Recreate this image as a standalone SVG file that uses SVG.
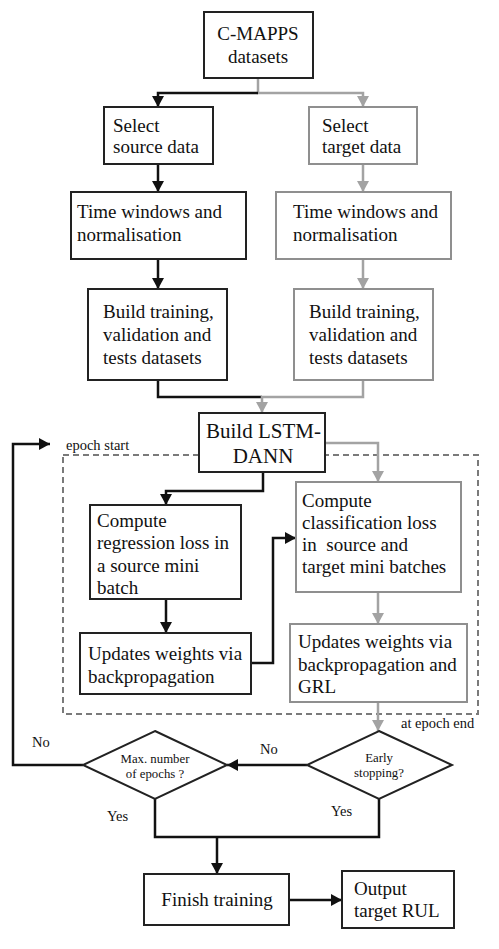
<svg xmlns="http://www.w3.org/2000/svg" width="499" height="949" viewBox="0 0 499 949" font-family="'Liberation Serif', 'DejaVu Serif', serif">
<style>
text{font-family:'Liberation Serif','DejaVu Serif',serif;fill:#111;}
.t{font-size:19px;}
.big{font-size:21px;}
.s{font-size:14.5px;}
.d{font-size:12.8px;}
.bb{fill:#fff;stroke:#222;stroke-width:2;}
.gb{fill:#fff;stroke:#8f8f8f;stroke-width:2;}
.bl{fill:none;stroke:#111;stroke-width:2.5;}
.gl{fill:none;stroke:#a3a3a3;stroke-width:2.5;}
.dash{fill:none;stroke:#7a7a7a;stroke-width:2;stroke-dasharray:6 4;}
</style>
<defs>
<marker id="ab" markerUnits="userSpaceOnUse" markerWidth="12" markerHeight="12" refX="11" refY="6" orient="auto"><path d="M0,0 L11,6 L0,12 z" fill="#111"/></marker>
<marker id="ag" markerUnits="userSpaceOnUse" markerWidth="12" markerHeight="12" refX="11" refY="6" orient="auto"><path d="M0,0 L11,6 L0,12 z" fill="#a3a3a3"/></marker>
</defs>
<rect width="499" height="949" fill="#fff"/>
<rect class="dash" x="63" y="455" width="415" height="259"/>
<g id="connectors">
<path class="gl" d="M258,78 V93 H363 V107" marker-end="url(#ag)"/>
<path class="bl" d="M258,93 H158 V107" marker-end="url(#ab)"/>
<path class="bl" d="M158,164 V192" marker-end="url(#ab)"/>
<path class="gl" d="M363,164 V192" marker-end="url(#ag)"/>
<path class="bl" d="M158,259 V289" marker-end="url(#ab)"/>
<path class="gl" d="M363,259 V289" marker-end="url(#ag)"/>
<path class="bl" d="M158,380 V397 H262"/>
<path class="gl" d="M363,380 V397 H262 V413" marker-end="url(#ag)"/>
<path class="gl" d="M326,443 H378 V482" marker-end="url(#ag)"/>
<path class="bl" d="M263,472 V491 H166 V505" marker-end="url(#ab)"/>
<path class="bl" d="M166,599 V633" marker-end="url(#ab)"/>
<path class="bl" d="M251,663 H273 V538 H296" marker-end="url(#ab)"/>
<path class="gl" d="M378,592 V624" marker-end="url(#ag)"/>
<path class="gl" d="M378,702 V731" marker-end="url(#ag)"/>
<path class="bl" d="M307,765 H227" marker-end="url(#ab)"/>
<path class="bl" d="M83,765 H13 V444 H50" marker-end="url(#ab)"/>
<path class="bl" d="M155,799 V837 H379 V799"/>
<path class="bl" d="M217,837 V874" marker-end="url(#ab)"/>
<path class="bl" d="M289,900 H342" marker-end="url(#ab)"/>
<text class="s" x="66" y="450">epoch start</text>
<text class="s" x="401" y="728">at epoch end</text>
<text class="s" x="260" y="754">No</text>
<text class="s" x="32" y="747">No</text>
<text class="s" x="107" y="821">Yes</text>
<text class="s" x="331" y="816">Yes</text>
</g>
<g id="cmapps"><rect class="bb" x="204" y="12" width="109" height="66"/>
<text class="t" x="258" y="40" text-anchor="middle">C-MAPPS</text>
<text class="t" x="258" y="63" text-anchor="middle">datasets</text></g>
<g id="select-source"><rect class="bb" x="104" y="107" width="109" height="57"/>
<text class="t" x="113" y="132">Select</text><text class="t" x="113" y="153">source data</text></g>
<g id="select-target"><rect class="gb" x="309" y="107" width="108" height="57"/>
<text class="t" x="322" y="132">Select</text><text class="t" x="322" y="153">target data</text></g>
<g id="time-source"><rect class="bb" x="71" y="192" width="175" height="67"/>
<text class="t" x="77" y="218">Time windows and</text><text class="t" x="77" y="241">normalisation</text></g>
<g id="time-target"><rect class="gb" x="276" y="192" width="175" height="67"/>
<text class="t" x="293" y="218">Time windows and</text><text class="t" x="293" y="241">normalisation</text></g>
<g id="build-source"><rect class="bb" x="88" y="289" width="139" height="91"/>
<text class="t" x="103" y="318">Build training,</text><text class="t" x="103" y="341">validation and</text><text class="t" x="103" y="364">tests datasets</text></g>
<g id="build-target"><rect class="gb" x="294" y="289" width="139" height="91"/>
<text class="t" x="309" y="318">Build training,</text><text class="t" x="309" y="341">validation and</text><text class="t" x="309" y="364">tests datasets</text></g>
<g id="lstm"><rect class="bb" x="199" y="413" width="126" height="59"/>
<text class="big" x="206" y="438">Build LSTM-</text><text class="big" x="263" y="463" text-anchor="middle">DANN</text></g>
<g id="regression"><rect class="bb" x="90" y="505" width="151" height="94"/>
<text class="t" x="97" y="527">Compute</text><text class="t" x="97" y="549">regression loss in</text><text class="t" x="97" y="572">a source mini</text><text class="t" x="97" y="594">batch</text></g>
<g id="classification"><rect class="gb" x="296" y="482" width="165" height="110"/>
<text class="t" x="302" y="507">Compute</text><text class="t" x="302" y="529">classification loss</text><text class="t" x="302" y="551" xml:space="preserve">in  source and</text><text class="t" x="302" y="573">target mini batches</text></g>
<g id="update-source"><rect class="bb" x="80" y="633" width="171" height="61"/>
<text class="t" x="88" y="660">Updates weights via</text><text class="t" x="88" y="683">backpropagation</text></g>
<g id="update-target"><rect class="gb" x="290" y="624" width="177" height="78"/>
<text class="t" x="298" y="648">Updates weights via</text><text class="t" x="298" y="671">backpropagation and</text><text class="t" x="298" y="693">GRL</text></g>
<g id="early"><path class="bb" d="M379,731 L452,765 L379,799 L307,765 Z"/>
<text class="d" x="379" y="762" text-anchor="middle">Early</text><text class="d" x="379" y="777" text-anchor="middle">stopping?</text></g>
<g id="maxepochs"><path class="bb" d="M155,731 L227,765 L155,799 L83,765 Z"/>
<text class="d" x="155" y="763" text-anchor="middle">Max. number</text><text class="d" x="155" y="778" text-anchor="middle">of epochs ?</text></g>
<g id="finish"><rect class="bb" x="144" y="874" width="145" height="51"/>
<text class="t" x="217" y="906" text-anchor="middle">Finish training</text></g>
<g id="output"><rect class="bb" x="342" y="871" width="112" height="57"/>
<text class="t" x="354" y="895">Output</text><text class="t" x="354" y="917">target RUL</text></g>
</svg>
